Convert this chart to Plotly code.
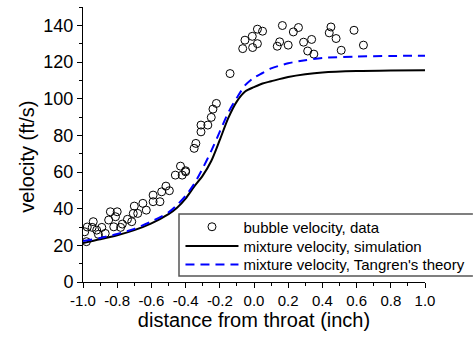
import plotly.graph_objects as go

# bubble velocity data
bub_x = [-0.98, -0.975, -0.99, -0.94, -0.946, -0.92, -0.91, -0.89, -0.87, -0.84, -0.80, -0.85,
         -0.81, -0.82, -0.77, -0.78, -0.74, -0.715, -0.706, -0.70, -0.68, -0.65, -0.63, -0.59,
         -0.59, -0.55, -0.54, -0.515, -0.495, -0.46, -0.43, -0.42, -0.40, -0.40, -0.35, -0.34,
         -0.31, -0.31, -0.27, -0.25, -0.24, -0.22, -0.14, -0.066, -0.053, -0.01, -0.008, 0.02,
         0.02, 0.05, 0.136, 0.15, 0.166, 0.20, 0.23, 0.26, 0.29, 0.337, 0.314, 0.35, 0.45,
         0.44, 0.48, 0.51, 0.585, 0.64]
bub_y = [22, 30, 27.4, 32.9, 29.8, 28.3, 26, 29.8, 26.5, 38.3, 38.3, 33.8,
         35.6, 30.1, 31.6, 29.8, 34.2, 32.9, 37.4, 41.4, 37.4, 42.9, 39.2, 43.8,
         47.4, 43.8, 49.2, 52.3, 49.8, 58.3, 63.2, 58.3, 60.1, 60.7, 72.9, 75.6,
         81.9, 85.6, 85.6, 89.8, 94.3, 97.4, 113.7, 127.3, 131.9, 134, 127.9, 130,
         137.9, 136.8, 128.6, 131, 139.9, 129.2, 136.4, 138.8, 130.8, 132.3, 126, 124.3, 139.1,
         135.9, 132.8, 126.4, 137.3, 129.2]

# mixture velocity, simulation
sim_x = [-1.0, -0.9, -0.8, -0.7, -0.6, -0.5, -0.45, -0.4, -0.35, -0.3, -0.25, -0.2, -0.15,
         -0.1, -0.05, 0.0, 0.05, 0.1, 0.2, 0.3, 0.4, 0.6, 0.8, 1.0]
sim_y = [21.3, 23.3, 25.5, 28.3, 32, 37, 40.5, 45.5, 52, 58, 66, 77.5, 89.5,
         98.5, 104, 106.3, 108.3, 109.5, 111.8, 113.3, 114.3, 115.1, 115.4, 115.5]

# mixture velocity, Tangren's theory
tan_x = [-1.0, -0.9, -0.8, -0.7, -0.6, -0.5, -0.45, -0.4, -0.35, -0.3, -0.25, -0.2, -0.15,
         -0.1, -0.05, 0.0, 0.05, 0.1, 0.2, 0.3, 0.4, 0.6, 0.8, 1.0]
tan_y = [22.3, 24, 26.2, 29, 33, 38, 42, 47, 53.5, 62, 71.5, 82, 92.5,
         100.5, 107.5, 111.5, 114, 116.5, 119.3, 121, 122.2, 123, 123.3, 123.4]

x_ticks = [-1.0, -0.8, -0.6, -0.4, -0.2, 0.0, 0.2, 0.4, 0.6, 0.8, 1.0]
y_ticks = [0, 20, 40, 60, 80, 100, 120, 140]

FONT = "Arial, Liberation Sans, sans-serif"

fig = go.Figure()
fig.add_trace(go.Scatter(
    x=bub_x, y=bub_y, mode="markers", name="bubble velocity, data", legend="legend",
    marker=dict(symbol="circle-open", size=8, color="black", line=dict(width=1, color="black")),
))
fig.add_trace(go.Scatter(
    x=sim_x, y=sim_y, mode="lines", name="mixture velocity, simulation", legend="legend2",
    line=dict(color="black", width=2, shape="spline", smoothing=0.8),
))
fig.add_trace(go.Scatter(
    x=tan_x, y=tan_y, mode="lines", name="mixture velocity, Tangren's theory", legend="legend3",
    line=dict(color="#0000ff", width=2, dash="9px,6px", shape="spline", smoothing=0.8),
))

def leg(ypos):
    return dict(
        x=0.285, y=ypos, xanchor="left", yanchor="middle",
        bgcolor="rgba(0,0,0,0)", borderwidth=0,
        font=dict(size=15, family=FONT), itemwidth=53,
    )

fig.update_layout(
    width=474, height=337,
    margin=dict(l=83, r=49, t=7, b=55, autoexpand=False),
    paper_bgcolor="white", plot_bgcolor="white",
    font=dict(family=FONT, color="black"),
    showlegend=True,
    legend=leg(0.200),
    legend2=leg(0.130),
    legend3=leg(0.063),
    shapes=[dict(type="path", xref="paper", yref="paper",
                 path="M 1.14 0.0218 L 0.2807 0.0218 L 0.2807 0.247 L 1.14 0.247",
                 line=dict(color="#555555", width=1.5), fillcolor="rgba(0,0,0,0)")],
    annotations=[dict(text="velocity (ft/s)", xref="paper", yref="paper",
                      x=-0.162, y=0.454, xanchor="center", yanchor="middle",
                      textangle=-90, showarrow=False, font=dict(size=20, family=FONT))],
)
fig.update_xaxes(
    range=[-1.0, 1.0], tickvals=x_ticks, ticktext=[f"{v:.1f}" for v in x_ticks],
    showgrid=False, zeroline=False, showline=True, linecolor="black", linewidth=1,
    ticks="outside", ticklen=5, tickwidth=1, tickcolor="black",
    minor=dict(dtick=0.1, ticks="outside", ticklen=3, tickcolor="black", showgrid=False),
    tickfont=dict(size=15, family=FONT),
    title=dict(text="distance from throat (inch)", font=dict(size=20, family=FONT), standoff=3),
)
fig.update_yaxes(
    range=[0, 150], tickvals=y_ticks,
    showgrid=False, zeroline=False, showline=True, linecolor="black", linewidth=1,
    ticks="outside", ticklen=5, tickwidth=1, tickcolor="black",
    minor=dict(dtick=10, ticks="outside", ticklen=3, tickcolor="black", showgrid=False),
    tickfont=dict(size=18, family=FONT),
)

fig.write_html("out.html")
